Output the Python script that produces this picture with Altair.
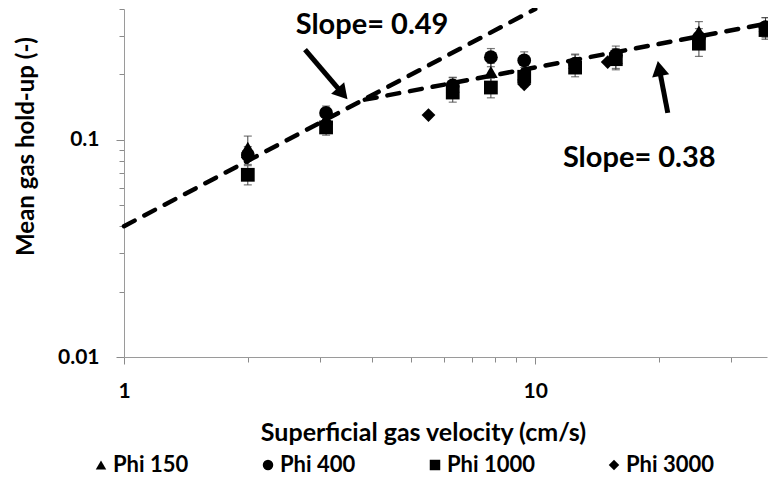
import altair as alt
import pandas as pd

# ---------------- data ----------------
series = ["Phi 150", "Phi 400", "Phi 1000", "Phi 3000"]
shapes = ["triangle-up", "circle", "square", "diamond"]

x_150 = [2.0, 3.1, 6.3, 7.8, 9.4, 12.5, 15.7, 25.0, 36.3]
y_150 = [0.092, 0.125, 0.176, 0.205, 0.200, 0.226, 0.238, 0.315, 0.335]
e_150 = [0.012, 0.012, 0.018, 0.020, 0.020, 0.022, 0.025, 0.035, 0.030]

x_400 = [2.0, 3.1, 6.3, 7.8, 9.4, 12.5, 15.7, 25.0, 36.3]
y_400 = [0.085, 0.133, 0.178, 0.240, 0.232, 0.224, 0.245, 0.295, 0.330]
e_400 = [0.008, 0.010, 0.015, 0.023, 0.022, 0.022, 0.025, 0.030, 0.035]

x_1000 = [2.0, 3.1, 6.3, 7.8, 9.4, 12.5, 15.7, 25.0, 36.3]
y_1000 = [0.069, 0.114, 0.165, 0.174, 0.195, 0.215, 0.235, 0.277, 0.320]
e_1000 = [0.007, 0.009, 0.016, 0.018, 0.020, 0.020, 0.025, 0.035, 0.030]

x_3000 = [2.0, 3.1, 5.5, 9.4, 15.0]
y_3000 = [0.083, 0.120, 0.130, 0.180, 0.228]

# dashed fit lines
fit_a_x = [1.0, 10.0]
fit_a_y = [0.040, 0.400]
fit_b_x = [3.85, 36.6]
fit_b_y = [0.153, 0.343]

# annotations
ann_text = ["Slope= 0.49", "Slope= 0.38"]
ann_x = [4.01, 17.9]
ann_y = [0.308, 0.0751]

arrow_tail_x = [2.755, 21.0]
arrow_tail_y = [0.260, 0.133]
arrow_head_x = [3.40, 20.02]
arrow_head_y = [0.163, 0.213]
arrow_angle = [139, 349]

x_ticks = [1, 2, 3, 4, 5, 6, 7, 8, 9, 10, 20, 30]
y_ticks = [0.01, 0.02, 0.03, 0.04, 0.05, 0.06, 0.07, 0.08, 0.09, 0.1, 0.2, 0.3, 0.4]

# ---------------- tables ----------------
pts = pd.concat([
    pd.DataFrame({"x": x_150, "y": y_150, "s": "Phi 150"}),
    pd.DataFrame({"x": x_400, "y": y_400, "s": "Phi 400"}),
    pd.DataFrame({"x": x_1000, "y": y_1000, "s": "Phi 1000"}),
    pd.DataFrame({"x": x_3000, "y": y_3000, "s": "Phi 3000"}),
], ignore_index=True)

err = pd.concat([
    pd.DataFrame({"x": x_150, "y": y_150, "e": e_150}),
    pd.DataFrame({"x": x_400, "y": y_400, "e": e_400}),
    pd.DataFrame({"x": x_1000, "y": y_1000, "e": e_1000}),
], ignore_index=True)
err["lo"] = err["y"] - err["e"]
err["hi"] = err["y"] + err["e"]

fit_a = pd.DataFrame({"x": fit_a_x, "y": fit_a_y})
fit_b = pd.DataFrame({"x": fit_b_x, "y": fit_b_y})
ann = pd.DataFrame({"x": ann_x, "y": ann_y, "t": ann_text})
arr = pd.DataFrame({"x": arrow_tail_x, "y": arrow_tail_y,
                    "x2": arrow_head_x, "y2": arrow_head_y, "a": arrow_angle})

FONT = "Lato"
XT = "Superficial gas velocity (cm/s)"
YT = "Mean gas hold-up (-)"

xscale = alt.Scale(type="log", domain=[1, 36.6], nice=False)
yscale = alt.Scale(type="log", domain=[0.01, 0.4], nice=False)

xaxis = alt.Axis(
    values=x_ticks,
    labelExpr="datum.value == 1 ? '1' : datum.value == 10 ? '10' : ''",
    labelOverlap=False, labelFlush=False,
    tickSize={"condition": {"test": "datum.value == 1 || datum.value == 10", "value": 7}, "value": 5},
    labelPadding=16, titleX=299, titleY=75, titleBaseline="middle", titleFontSize=25,
)
yaxis = alt.Axis(
    values=y_ticks,
    labelExpr="datum.value == 0.1 ? '0.1' : datum.value == 0.01 ? '0.01' : ''",
    labelOverlap=False, labelFlush=False,
    tickSize={"condition": {"test": "datum.value == 0.1 || datum.value == 0.01", "value": 8}, "value": 5},
    labelPadding=17, titleX=-98, titleY=137, titleBaseline="middle", titleAngle=270,
    titleFontSize=24,
)


def X(f="x"):
    return alt.X(f"{f}:Q", scale=xscale, axis=xaxis, title=XT)


def Y(f="y"):
    return alt.Y(f"{f}:Q", scale=yscale, axis=yaxis, title=YT)


ERRC = "#404040"

err_rule = alt.Chart(err).mark_rule(color=ERRC, strokeWidth=1).encode(
    x=X(), y=Y("lo"), y2="hi")
err_lo = alt.Chart(err).mark_tick(orient="horizontal", size=8, thickness=1.2, color=ERRC).encode(
    x=X(), y=Y("lo"))
err_hi = alt.Chart(err).mark_tick(orient="horizontal", size=8, thickness=1.2, color=ERRC).encode(
    x=X(), y=Y("hi"))

points = alt.Chart(pts).mark_point(filled=True, color="black", size=190, opacity=1).encode(
    x=X(), y=Y(),
    shape=alt.Shape("s:N", scale=alt.Scale(domain=series, range=shapes),
                    legend=alt.Legend(
                        title=None, orient="none", direction="horizontal", columns=4,
                        legendX=-34, legendY=445,
                        symbolSize=110, symbolFillColor="black", symbolStrokeColor="black",
                        symbolStrokeWidth=0,
                        labelFont=FONT, labelFontSize=22, labelFontWeight="bold",
                        labelColor="black", labelOffset=1, columnPadding=68, padding=0,
                    )),
)

dash = dict(color="black", strokeWidth=4.5, strokeDash=[12, 11], strokeCap="round")
line_a = alt.Chart(fit_a).mark_line(**dash).encode(x=X(), y=Y())
line_b = alt.Chart(fit_b).mark_line(**dash).encode(x=X(), y=Y())

shaft = alt.Chart(arr).mark_rule(color="black", strokeWidth=5).encode(
    x=X(), y=Y(), x2="x2", y2="y2")
head = alt.Chart(arr).mark_point(shape="triangle-up", filled=True, color="black",
                                 size=300, opacity=1).encode(
    x=X("x2"), y=Y("y2"), angle=alt.Angle("a:Q", scale=None))

labels = alt.Chart(ann).mark_text(font=FONT, fontWeight="bold", fontSize=29,
                                  baseline="alphabetic", align="center",
                                  color="black").encode(
    x=X(), y=Y(), text="t:N")

chart = alt.layer(
    err_rule, err_lo, err_hi, points, line_a, line_b, shaft, head, labels
).properties(
    width=643, height=348,
    autosize=alt.AutoSizeParams(type="none"),
    padding={"left": 116, "top": 1, "right": 1, "bottom": 125},
).configure_view(stroke=None).configure_axis(
    grid=False,
    domainColor="#9a9a9a", domainWidth=1,
    tickColor="#8a8a8a", tickWidth=1,
    labelFont=FONT, labelFontSize=21, labelFontWeight="bold", labelColor="black",
    titleFont=FONT, titleFontWeight="bold", titleColor="black",
)

chart.save("out.html", embed_options={"renderer": "svg", "actions": False})
